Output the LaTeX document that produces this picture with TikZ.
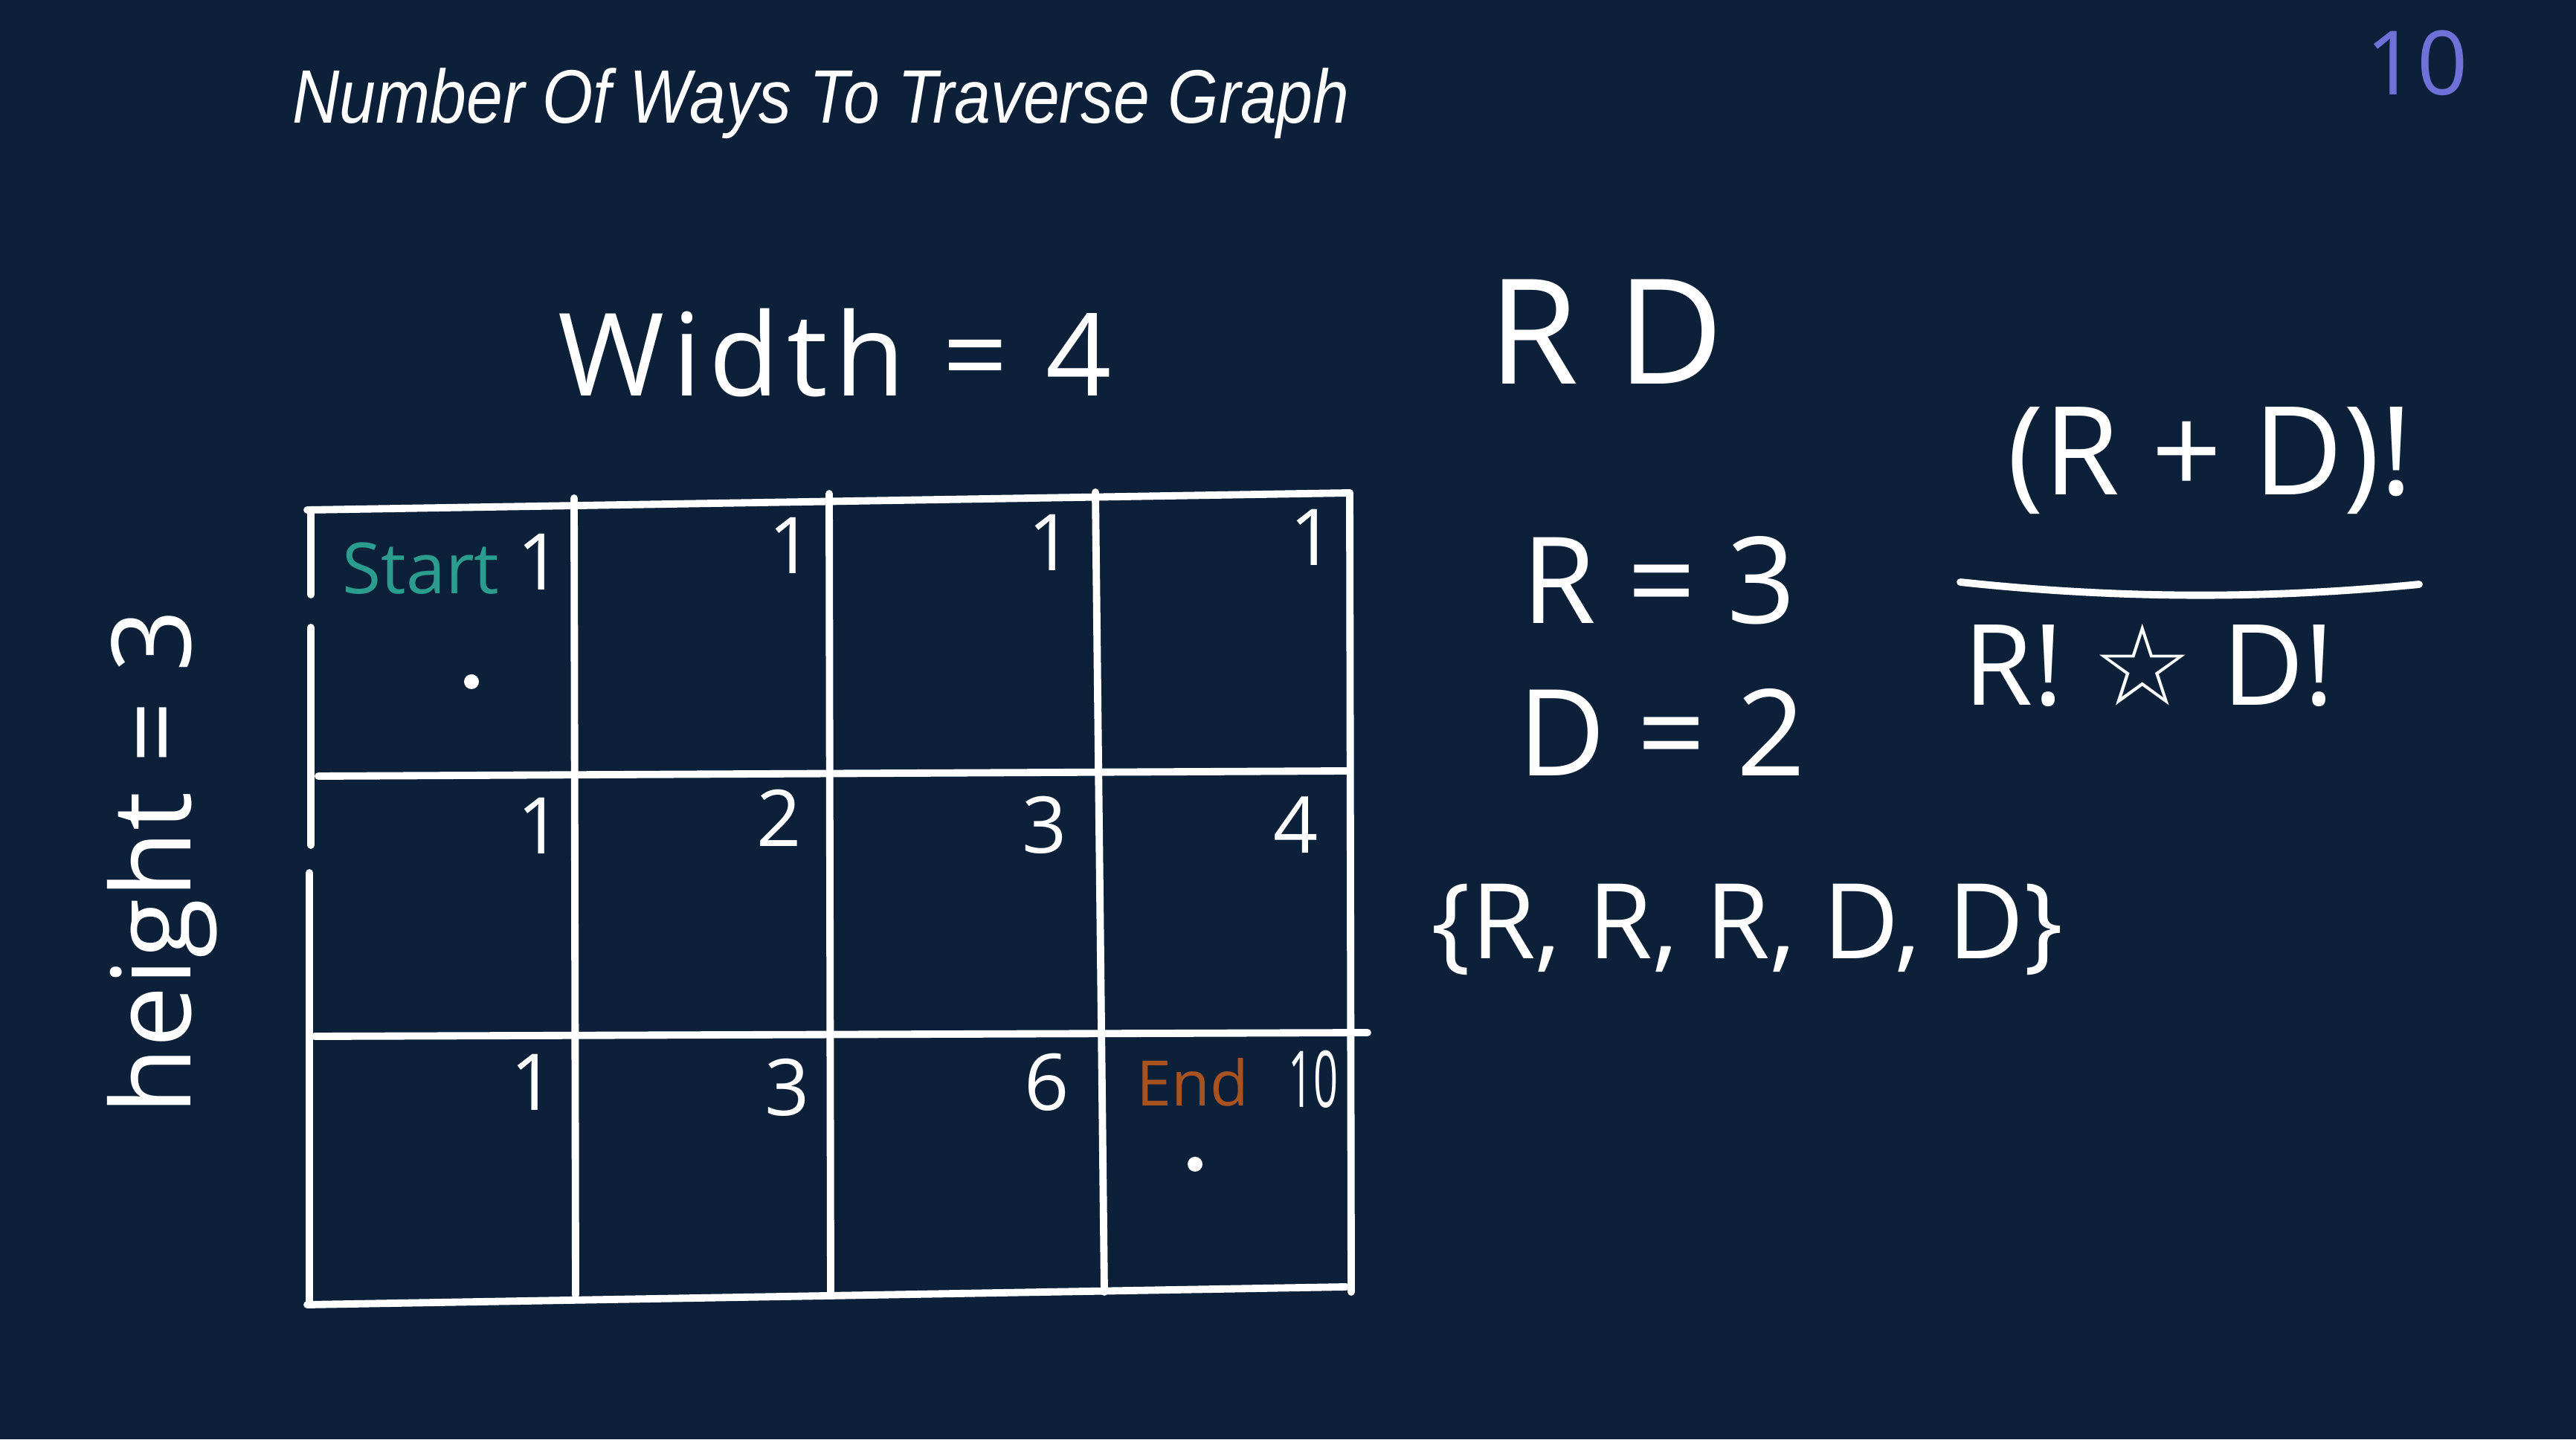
\documentclass[tikz,border=0pt]{standalone}
\usepackage{fontspec}
\setmainfont{Open Sans}
\newfontfamily\titlefont[FakeStretch=0.86]{Liberation Sans}
\newfontfamily\symfont{DejaVu Sans}
\usetikzlibrary{positioning}
\definecolor{boardbg}{HTML}{0C2039}
\definecolor{startteal}{HTML}{2A9D8F}
\definecolor{endbrown}{HTML}{A8531F}
\definecolor{penblue}{HTML}{6F70D8}

\begin{document}
\begin{tikzpicture}[
  chalk/.style={white,line width=2.8pt,line cap=round},
  hand/.style={white,inner sep=0pt},
  num/.style={hand,font=\fontsize{30}{34}\selectfont},
  big/.style={hand,font=\fontsize{46}{52}\selectfont},
]
\fill[boardbg] (0,0) rectangle (34.64,19.36);
\useasboundingbox (0,0) rectangle (34.64,19.36);

% Title
\node[anchor=base west,inner sep=0pt,white,font=\titlefont\itshape\fontsize{29}{34}\selectfont] (title) at (3.93,17.70) {Number Of Ways To Traverse Graph};
\node[hand,penblue,font=\fontsize{34}{40}\selectfont] (answer) at (32.50,18.51) {10};

% Grid
\draw[chalk] (4.13,12.50) -- (18.15,12.73);
\draw[chalk] (4.28,8.92) -- (18.10,8.99);
\draw[chalk] (4.23,5.42) -- (18.39,5.47);
\draw[chalk] (4.13,1.81) -- (18.10,2.05);
\draw[chalk] (4.18,12.46) -- (4.18,11.36);
\draw[chalk] (4.18,10.92) -- (4.18,7.99);
\draw[chalk] (4.16,7.62) -- (4.16,1.83);
\draw[chalk] (7.72,12.66) -- (7.74,1.94);
\draw[chalk] (11.15,12.72) -- (11.17,1.95);
\draw[chalk] (14.73,12.74) -- (14.85,1.98);
\draw[chalk] (18.15,12.73) -- (18.17,1.98);

% Row 1
\node[hand,startteal,font=\fontsize{27}{32}\selectfont] (start) at (5.66,11.71) {Start};
\node[num] (c11) at (7.26,11.80) {1};
\node[num] (c12) at (10.64,12.02) {1};
\node[num] (c13) at (14.13,12.06) {1};
\node[num] (c14) at (17.65,12.13) {1};
\fill[white] (6.34,10.19) circle (0.1);

% Row 2
\node[num] (c21) at (7.26,8.25) {1};
\node[num] (c22) at (10.48,8.36) {2};
\node[num] (c23) at (14.05,8.26) {3};
\node[num] (c24) at (17.43,8.26) {4};

% Row 3
\node[num] (c31) at (7.17,4.80) {1};
\node[num] (c32) at (10.59,4.73) {3};
\node[num] (c33) at (14.08,4.80) {6};
\node[hand,endbrown,font=\fontsize{24}{28}\selectfont] (end) at (16.04,4.80) {End};
\node[num] (c34) at (17.66,4.84) {\scalebox{0.55}[1]{10}};
\fill[white] (16.07,3.70) circle (0.1);

% Sizes
\node[hand,font=\fontsize{44}{50}\selectfont\addfontfeature{LetterSpace=6.5}] (width) at (11.23,14.61) {Width = 4};
\node[hand,rotate=90,font=\fontsize{42}{48}\selectfont] (height) at (2.18,7.76) {height = 3};

% Moves
\node[hand,font=\fontsize{56}{62}\selectfont] (moves) at (21.60,14.90) {R D};
\node[big] (rcount) at (22.31,11.55) {R = 3};
\node[big] (dcount) at (22.35,9.51) {D = 2};
\node[hand,font=\fontsize{40}{46}\selectfont] (moveset) at (23.50,6.86) {\{R, R, R, D, D\}};

% Formula
\node[hand,font=\fontsize{47}{52}\selectfont] (numer) at (29.72,13.16) {(R + D)!};
\coordinate (barl) at (26.36,11.53);
\coordinate (barr) at (32.53,11.50);
\draw[chalk] (barl) .. controls (28.5,11.30) and (30.5,11.30) .. (barr);
\node[hand,font=\fontsize{43}{48}\selectfont] (denom) at (28.90,10.41) {R! {\symfont ☆} D!};

\end{tikzpicture}
\end{document}
